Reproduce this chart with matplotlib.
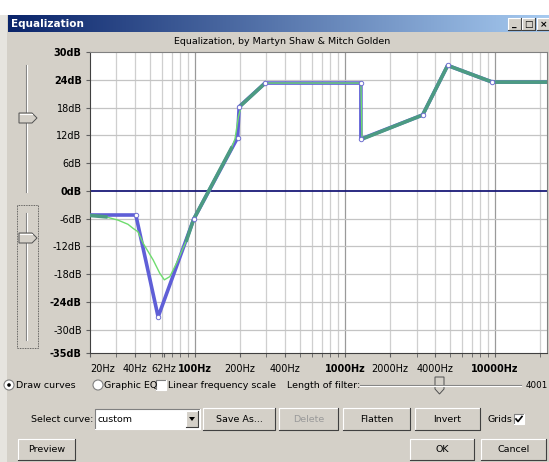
import numpy as np
import matplotlib.pyplot as plt
from matplotlib.patches import Rectangle, Circle, Polygon
from matplotlib.colors import LinearSegmentedColormap
from matplotlib.ticker import FixedLocator, NullFormatter

W, H = 549, 462

# curve drawn by the user (blue, with control points)
curve_hz = [20, 40.4, 56.9, 98.2, 192.6, 197.4, 294, 1278, 1278, 3296, 4838, 9597, 22050]
curve_db = [-5.2, -5.2, -27.2, -6.1, 11.5, 18.2, 23.3, 23.3, 11.2, 16.4, 27.1, 23.5, 23.5]

# actual filter response (green)
resp_hz = [20, 25.5, 30.7, 35.8, 38.8, 41.7, 45.2, 52.7, 58.4, 62.6, 68.1, 75.5, 88.1,
           98.2, 175, 185, 195, 205, 294, 1278, 1300, 3296, 4838, 9597, 22050]
resp_db = [-5.3, -5.6, -6.3, -7.2, -8.1, -8.8, -11.3, -14.9, -17.8, -19.2, -18.5, -15.6, -10.6,
           -6.1, 9.2, 11.2, 16.0, 18.6, 23.3, 23.3, 11.2, 16.4, 27.1, 23.5, 23.5]

ytick_db = [30, 24, 18, 12, 6, 0, -6, -12, -18, -24, -30, -35]
ybold = [30, 24, 0, -24, -35]
xtick_hz = [20, 40, 62, 100, 200, 400, 1000, 2000, 4000, 10000]
xtick_lab = ['20Hz', '40Hz', '62Hz', '100Hz', '200Hz', '400Hz', '1000Hz', '2000Hz', '4000Hz', '10000Hz']
grid_major_hz = [100, 1000, 10000]
grid_minor_hz = [30, 40, 50, 60, 70, 80, 90, 200, 300, 400, 500, 600, 700, 800, 900,
                 2000, 3000, 4000, 5000, 6000, 7000, 8000, 9000, 20000]

FACE = '#d4d0c8'
FS = 6.8
plt.rcParams['font.family'] = ['DejaVu Sans']

fig = plt.figure(figsize=(W / 100, H / 100), dpi=100)
fig.patch.set_facecolor(FACE)

# ---- dialog chrome, drawn in pixel coordinates ----
ui = fig.add_axes([0, 0, 1, 1], zorder=0)
ui.set_axis_off()
tb = LinearSegmentedColormap.from_list('tb', ['#0a246a', '#a6caf0'])
ui.imshow(np.linspace(0, 1, 256)[None, :], cmap=tb, extent=[8, W, 32, 15], aspect='auto')
ui.add_patch(Rectangle((0, 0), W, 15, fc='white', ec='none'))
ui.add_patch(Rectangle((0, 15), 7, H, fc='#e6e4df', ec='none'))
ui.set_xlim(0, W)
ui.set_ylim(H, 0)
ui.text(11, 24, 'Equalization', color='white', fontsize=7.5, fontweight='bold', va='center')


def bevel(x0, y0, x1, y1, raised=True):
    light, dark = ('white', '#404040') if raised else ('#808080', 'white')
    ui.plot([x0, x0, x1], [y1, y0, y0], color=light, lw=0.8)
    ui.plot([x0, x1, x1], [y1, y1, y0], color=dark, lw=0.8)


def button(x0, y0, x1, y1, label, color='black'):
    ui.add_patch(Rectangle((x0, y0), x1 - x0, y1 - y0, fc=FACE, ec='none'))
    bevel(x0, y0, x1, y1)
    ui.text((x0 + x1) / 2, (y0 + y1) / 2, label, ha='center', va='center', fontsize=FS, color=color)


def checkbox(x, y, checked=False):
    ui.add_patch(Rectangle((x, y), 10, 10, fc='white', ec='none'))
    bevel(x, y, x + 10, y + 10, raised=False)
    if checked:
        ui.plot([x + 2, x + 4, x + 8], [y + 5, y + 7.5, y + 2.5], color='black', lw=1.2)


def vthumb(y):
    ui.add_patch(Polygon([(19, y - 5), (32, y - 5), (37, y), (32, y + 5), (19, y + 5)],
                         fc=FACE, ec='#505050', lw=0.7, zorder=3))
    ui.plot([19.5, 31.5], [y - 4.3, y - 4.3], color='white', lw=0.8, zorder=4)


# title bar buttons
for bx, sym in [(508, '_'), (522, '□'), (537, '×')]:
    button(bx, 18, bx + 13, 30, '')
    ui.text(bx + 6.5, 24.5, sym, ha='center', va='center', fontsize=6.5, fontweight='bold')

ui.text(282, 42, 'Equalization, by Martyn Shaw & Mitch Golden', ha='center', va='center', fontsize=FS)

# left vertical sliders
ui.plot([25.5, 25.5], [65, 192], color='#808080', lw=0.8)
ui.plot([27, 27], [65, 192], color='white', lw=0.8)
vthumb(118)
ui.add_patch(Rectangle((17, 205), 21, 143, fc='none', ec='#404040', lw=0.6, ls=(0, (1, 1))))
ui.plot([25.5, 25.5], [213, 340], color='#808080', lw=0.8)
ui.plot([27, 27], [213, 340], color='white', lw=0.8)
vthumb(238)

# row 1: radio buttons, checkbox, filter length slider
for rx, lab, on in [(9, 'Draw curves', True), (98, 'Graphic EQ', False)]:
    ui.add_patch(Circle((rx, 385), 5, fc='white', ec='#808080', lw=0.8))
    if on:
        ui.add_patch(Circle((rx, 385), 1.8, fc='black', ec='none'))
    ui.text(rx + 6.5, 385, lab, va='center', fontsize=FS)
checkbox(156, 380)
ui.text(168, 385, 'Linear frequency scale', va='center', fontsize=FS)
ui.text(287, 385, 'Length of filter:', va='center', fontsize=FS)
ui.plot([360, 521], [384.5, 384.5], color='#808080', lw=0.8)
ui.plot([360, 521], [386, 386], color='white', lw=0.8)
ui.add_patch(Polygon([(435, 377), (444, 377), (444, 389), (439.5, 394), (435, 389)], fc=FACE, ec='#505050', lw=0.7))
ui.text(548, 385, '4001', ha='right', va='center', fontsize=6.3)

# row 2: curve selection
ui.text(93, 419, 'Select curve:', ha='right', va='center', fontsize=FS)
ui.add_patch(Rectangle((95, 409), 105, 20, fc='white', ec='none'))
bevel(95, 409, 200, 429, raised=False)
ui.text(98, 419, 'custom', va='center', fontsize=FS)
button(186, 411, 198, 427, '')
ui.add_patch(Polygon([(189, 417), (195, 417), (192, 421)], fc='black', ec='none'))
button(203, 408, 275, 430, 'Save As...')
button(279, 408, 338, 430, 'Delete', color='#9a9a9a')
button(343, 408, 410, 430, 'Flatten')
button(415, 408, 480, 430, 'Invert')
ui.text(487, 419, 'Grids', va='center', fontsize=FS)
checkbox(514, 414, checked=True)

# row 3
button(18, 439, 75, 460, 'Preview')
button(410, 439, 474, 460, 'OK')
button(481, 439, 546, 460, 'Cancel')

# ---- the equalization plot ----
ax = fig.add_axes([90 / W, 1 - 353 / H, (546.5 - 90) / W, (353 - 52) / H], zorder=1)
ax.set_facecolor('white')
ax.set_xscale('log')
ax.set_xlim(20, 22050)
ax.set_ylim(-35, 30)

for f in grid_minor_hz:
    ax.axvline(f, color='#cfcfcf', lw=0.9, zorder=1)
for f in grid_major_hz:
    ax.axvline(f, color='#9a9a9a', lw=0.9, zorder=1)
for d in ytick_db:
    if d not in (30, 0, -35):
        ax.axhline(d, color='#c4c4c4', lw=0.9, zorder=1)
ax.axhline(0, color='#1a1a78', lw=1.3, zorder=2)

ax.plot(curve_hz, curve_db, color='#5f5fd7', lw=2.6, zorder=3, solid_joinstyle='round')
ax.plot(resp_hz, resp_db, color='#6edc6e', lw=1.0, zorder=4)
near = np.abs(np.array(resp_db) - np.interp(np.log10(resp_hz), np.log10(curve_hz), curve_db)) < 0.6
ax.plot(resp_hz, np.where(near, resp_db, np.nan), color='#4c9b82', lw=2.6, zorder=5,
        solid_joinstyle='round')
ax.plot(curve_hz[1:-1], curve_db[1:-1], 'o', ms=3.2, mfc='white', mec='#7070d0', mew=0.7, zorder=6)

ax.set_yticks(ytick_db, [f'{d}dB' for d in ytick_db])
for lab, d in zip(ax.get_yticklabels(), ytick_db):
    if d in ybold:
        lab.set_fontweight('bold')
ax.set_xticks(xtick_hz, xtick_lab)
ax.xaxis.set_minor_locator(FixedLocator([f for f in grid_minor_hz if f not in xtick_hz]))
ax.xaxis.set_minor_formatter(NullFormatter())
for lab, txt in zip(ax.get_xticklabels(), xtick_lab):
    if txt in ('100Hz', '1000Hz', '10000Hz'):
        lab.set_fontweight('bold')
    if txt == '62Hz':
        lab.set_fontsize(6.2)
    if txt == '20Hz':
        lab.set_horizontalalignment('left')
ax.tick_params(axis='both', which='both', direction='out', length=3, color='#606060', labelsize=7)
ax.tick_params(axis='y', pad=3)
ax.tick_params(axis='x', pad=5)

ax.spines['left'].set_color('#404040')
ax.spines['bottom'].set_color('#404040')
ax.spines['top'].set_color('#808080')
ax.spines['right'].set_color('#808080')

fig.savefig('out.png', dpi=100, facecolor=FACE)
